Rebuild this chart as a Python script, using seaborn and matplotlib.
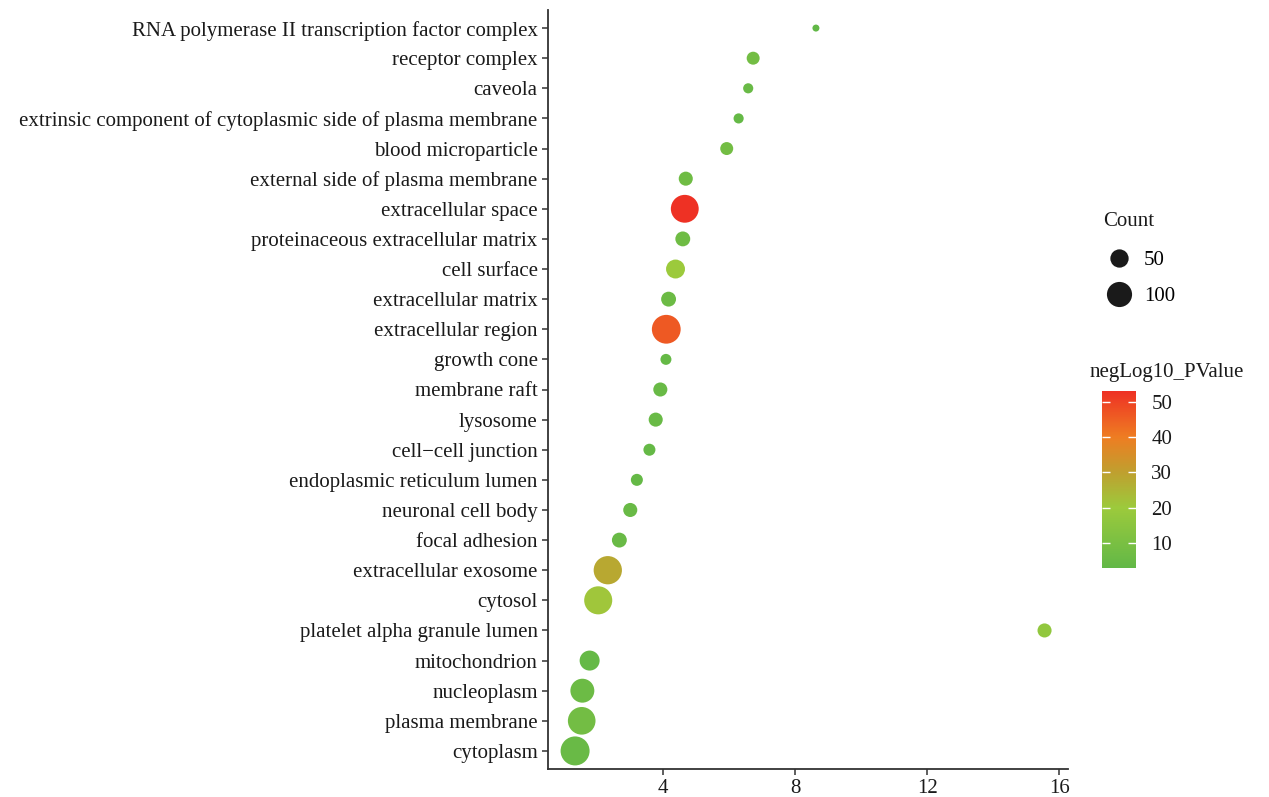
import numpy as np
import pandas as pd
import matplotlib
matplotlib.use("Agg")
import matplotlib.pyplot as plt
from matplotlib.colors import LinearSegmentedColormap, Normalize
from matplotlib.cm import ScalarMappable
from matplotlib.lines import Line2D
import seaborn as sns

terms = ["RNA polymerase II transcription factor complex", "receptor complex", "caveola",
         "extrinsic component of cytoplasmic side of plasma membrane", "blood microparticle",
         "external side of plasma membrane", "extracellular space",
         "proteinaceous extracellular matrix", "cell surface", "extracellular matrix",
         "extracellular region", "growth cone", "membrane raft", "lysosome",
         "cell\u2212cell junction", "endoplasmic reticulum lumen", "neuronal cell body",
         "focal adhesion", "extracellular exosome", "cytosol", "platelet alpha granule lumen",
         "mitochondrion", "nucleoplasm", "plasma membrane", "cytoplasm"]
fold = [8.63, 6.73, 6.58, 6.29, 5.93, 4.69, 4.66, 4.60, 4.38, 4.17, 4.10, 4.09, 3.92,
        3.78, 3.59, 3.21, 3.01, 2.68, 2.33, 2.04, 15.55, 1.78, 1.56, 1.54, 1.34]
count = [2, 22, 11, 11, 22, 27, 124, 31, 54, 31, 133, 14, 27, 27, 18, 18, 27, 31,
         128, 126, 27, 61, 90, 122, 135]
neglog = [3.0, 8, 5, 4, 8, 7, 53, 7, 20, 6, 46, 4, 5, 5, 4, 4, 5, 5, 28, 21, 17,
          4, 6, 8, 5]
legend_counts = [50, 100]
cbar_ticks = [10, 20, 30, 40, 50]

df = pd.DataFrame({"term": terms, "fold": fold, "Count": count, "negLog10_PValue": neglog})

cmap = LinearSegmentedColormap.from_list(
    "gr", [(0.0, "#62B847"), (0.34, "#9CCA3C"), (0.54, "#BFA02F"),
           (0.74, "#EE7D22"), (1.0, "#EE3124")])
cnorm = Normalize(3, 53)
size_norm = (2, 135)
sizes = (25.4, 436)
fs = 15

plt.rcParams["font.family"] = ["Liberation Serif", "DejaVu Serif"]
fig = plt.figure(figsize=(12.69, 7.97), dpi=100)
ax = fig.add_axes([548 / 1269, 1 - 769 / 797, 520 / 1269, 759 / 797])

sns.scatterplot(data=df, x="fold", y="term", hue="negLog10_PValue", size="Count",
                palette=cmap, hue_norm=cnorm, sizes=sizes, size_norm=size_norm,
                linewidth=0, edgecolor="none", alpha=1, legend=False, ax=ax)

ax.set_xlim(0.52, 16.26)
ax.set_ylim(len(terms) - 0.4, -0.6)
ax.set_xticks([4, 8, 12, 16])
ax.set_xlabel("")
ax.set_ylabel("")
for s in ["top", "right"]:
    ax.spines[s].set_visible(False)
for s in ["left", "bottom"]:
    ax.spines[s].set_color("#333333")
    ax.spines[s].set_linewidth(1.3)
ax.tick_params(axis="both", colors="#333333", length=4, width=1.1,
               labelsize=fs, labelcolor="#1a1a1a")

# size legend
def msize(c):
    s = sizes[0] + (sizes[1] - sizes[0]) * (c - size_norm[0]) / (size_norm[1] - size_norm[0])
    return np.sqrt(s)

handles = [Line2D([0], [0], marker="o", ls="", color="#1a1a1a", markeredgewidth=0,
                  markersize=msize(c), label=str(c)) for c in legend_counts]
fig.text(1103 / 1269, 1 - 222 / 797, "Count", fontsize=fs, va="center", ha="left",
         color="#1a1a1a")
fig.legend(handles=handles, loc="upper left",
           bbox_to_anchor=(1090 / 1269, 1 - 242 / 797), frameon=False,
           fontsize=fs, labelspacing=0.8, handlelength=2.0,
           handletextpad=0.2, borderaxespad=0)

# colour bar
cax = fig.add_axes([1102 / 1269, 1 - 568 / 797, 34 / 1269, 177 / 797])
cb = fig.colorbar(ScalarMappable(norm=cnorm, cmap=cmap), cax=cax)
cb.outline.set_visible(False)
cb.set_ticks(cbar_ticks)
cax.tick_params(left=True, right=True, direction="in", length=6, width=1,
                color="white", labelsize=fs, labelcolor="#1a1a1a", pad=11)
fig.text(1090 / 1269, 1 - 372 / 797, "negLog10_PValue", fontsize=fs,
         va="center", ha="left", color="#1a1a1a")

fig.savefig("out.png", dpi=100)
